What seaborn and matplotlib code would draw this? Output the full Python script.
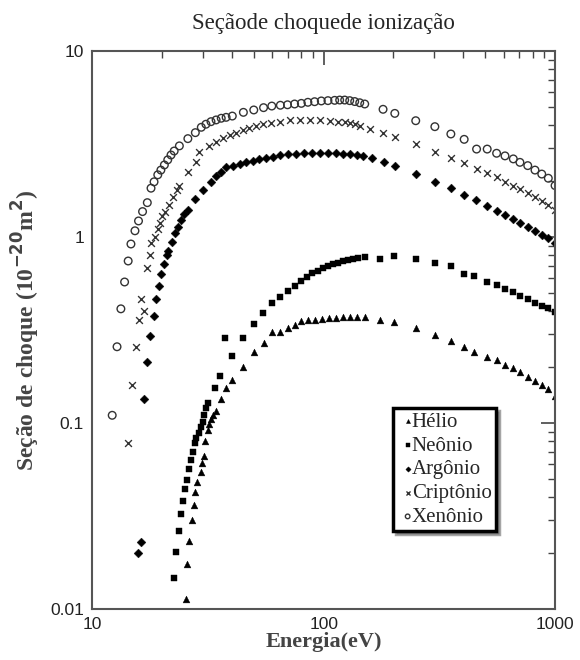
import seaborn as sns
import pandas as pd
import matplotlib.pyplot as plt
from matplotlib.ticker import LogLocator, NullFormatter, FixedFormatter, FixedLocator

###################
# Data (energy in eV, cross-section in 1e-20 m^2)
he_e = [25.4, 25.7, 26.3, 26.9, 27.4, 27.8, 28.3, 29.4, 29.7, 30.3, 30.8, 31.5, 32.1, 32.7,
        33.4, 34.1, 36.1, 37.9, 40.3, 45.0, 49.9, 55.0, 59.7, 65.0, 69.8, 74.9, 80.1, 85.2,
        91.4, 98.0, 105.1, 112.7, 120.8, 129.6, 139.0, 150.5, 174.8, 201.5, 250, 302.4,
        353.6, 404.8, 445.8, 505.8, 559.4, 607.6, 660, 705, 762, 819, 876, 935, 1000]
he_s = [0.0113, 0.0174, 0.0233, 0.0301, 0.0361, 0.0424, 0.0483, 0.0547, 0.0607, 0.0667,
        0.0803, 0.0917, 0.0988, 0.105, 0.110, 0.116, 0.134, 0.155, 0.170, 0.201, 0.242,
        0.268, 0.310, 0.310, 0.323, 0.335, 0.353, 0.358, 0.360, 0.362, 0.367, 0.369, 0.372,
        0.372, 0.372, 0.372, 0.358, 0.350, 0.323, 0.297, 0.277, 0.257, 0.242, 0.227, 0.218,
        0.205, 0.198, 0.188, 0.177, 0.168, 0.160, 0.152, 0.140]

ne_e = [22.6, 23.1, 23.6, 24.3, 24.7, 25.2, 25.6, 26.3, 26.7, 27.2, 27.8, 28.1, 28.8, 29.4,
        30.0, 30.5, 31.0, 31.6, 33.8, 35.8, 40.0, 37.6, 44.9, 49.8, 54.6, 59.7, 65.0, 69.8,
        74.9, 80.1, 84.7, 89.3, 94.4, 99.3, 104.4, 109.7, 115.3, 120.8, 127.0, 133.5, 140.3,
        150.5, 174.8, 201.5, 250, 302.4, 353.6, 404.8, 445.8, 505.8, 559.4, 607.6, 660, 705,
        762, 819, 876, 935, 1000]
ne_s = [0.0146, 0.0203, 0.0262, 0.0323, 0.0382, 0.0440, 0.0494, 0.0566, 0.0633, 0.0701,
        0.0778, 0.0828, 0.0887, 0.0955, 0.1016, 0.110, 0.120, 0.128, 0.155, 0.180, 0.230,
        0.285, 0.285, 0.340, 0.392, 0.440, 0.478, 0.514, 0.547, 0.580, 0.612, 0.638, 0.659,
        0.679, 0.698, 0.713, 0.728, 0.739, 0.752, 0.762, 0.771, 0.784, 0.762, 0.793, 0.762,
        0.728, 0.701, 0.632, 0.619, 0.575, 0.552, 0.525, 0.504, 0.484, 0.464, 0.443, 0.427,
        0.414, 0.394]

ar_e = [15.8, 16.3, 16.8, 17.3, 17.8, 18.4, 18.8, 19.4, 19.8, 20.4, 21.0, 21.3, 22.1, 22.7,
        23.4, 24.2, 25.0, 25.9, 27.9, 30.2, 32.6, 34.3, 36.1, 37.9, 40.5, 43.3, 46.3, 49.4,
        52.8, 56.5, 60.3, 65.0, 70.3, 75.6, 81.9, 88.7, 96.1, 104, 112.7, 120.8, 129.6, 139.0,
        147.9, 162.5, 181.9, 203, 251.8, 302.4, 354.6, 403.6, 453.6, 509, 559, 607.6, 660,
        705, 762, 819, 876, 935, 1000]
ar_s = [0.0199, 0.0228, 0.134, 0.212, 0.294, 0.376, 0.466, 0.547, 0.630, 0.713, 0.800,
        0.844, 0.944, 1.047, 1.136, 1.234, 1.33, 1.40, 1.60, 1.79, 1.98, 2.13, 2.24, 2.37,
        2.42, 2.47, 2.52, 2.57, 2.62, 2.67, 2.70, 2.75, 2.78, 2.81, 2.83, 2.83, 2.83, 2.83,
        2.83, 2.81, 2.79, 2.76, 2.73, 2.65, 2.52, 2.41, 2.18, 1.98, 1.83, 1.68, 1.58, 1.47,
        1.38, 1.31, 1.25, 1.19, 1.13, 1.08, 1.025, 0.984, 0.925]

kr_e = [14.3, 14.8, 15.4, 15.85, 16.3, 16.8, 17.2, 17.8, 17.95, 18.7, 19.2, 19.6, 20.1, 20.7,
        21.4, 22.3, 23.2, 23.8, 26.0, 28.1, 29.0, 32.1, 34.3, 36.6, 39.2, 41.9, 44.7, 47.8,
        51.1, 54.6, 59.4, 64.5, 71.3, 78.7, 86.9, 96.1, 106.2, 115.3, 123.3, 129.6, 136.2,
        143.2, 158.2, 180.6, 203, 251.8, 302.4, 354.6, 404.8, 458, 505.8, 559, 607.6, 660,
        705, 762, 819, 876, 935, 1000]
kr_s = [0.0783, 0.160, 0.255, 0.359, 0.464, 0.400, 0.679, 0.800, 0.925, 1.004, 1.10, 1.19,
        1.29, 1.37, 1.49, 1.65, 1.79, 1.89, 2.24, 2.54, 2.85, 3.10, 3.25, 3.40, 3.54, 3.64,
        3.76, 3.84, 3.95, 4.04, 4.12, 4.17, 4.26, 4.26, 4.26, 4.26, 4.22, 4.17, 4.13, 4.09,
        4.03, 3.95, 3.79, 3.61, 3.46, 3.15, 2.88, 2.67, 2.49, 2.31, 2.20, 2.10, 1.98, 1.89,
        1.81, 1.72, 1.65, 1.57, 1.49, 1.40]

xe_e = [12.2, 12.8, 13.3, 13.8, 14.3, 14.7, 15.3, 15.85, 16.5, 17.3, 17.95, 18.5, 19.2, 19.8,
        20.5, 21.2, 21.9, 22.6, 23.8, 25.9, 27.9, 29.6, 31.0, 32.6, 34.3, 36.1, 37.9, 40.3,
        45.0, 49.9, 55.0, 59.7, 65.0, 69.8, 74.9, 80.1, 85.5, 91.4, 97.7, 104.4, 111.6, 117.3,
        123.3, 129.6, 136.2, 143.2, 150.5, 180.6, 203, 250, 302.4, 354.6, 404.8, 458, 509, 559,
        607.6, 660, 705, 762, 819, 876, 935, 1000]
xe_s = [0.110, 0.257, 0.411, 0.573, 0.743, 0.917, 1.08, 1.22, 1.37, 1.53, 1.83, 1.98, 2.16,
        2.29, 2.44, 2.60, 2.76, 2.90, 3.09, 3.38, 3.64, 3.89, 4.04, 4.17, 4.26, 4.35, 4.40,
        4.47, 4.68, 4.82, 4.96, 5.06, 5.11, 5.14, 5.19, 5.23, 5.30, 5.34, 5.39, 5.41, 5.43,
        5.45, 5.45, 5.41, 5.35, 5.27, 5.19, 4.86, 4.62, 4.22, 3.92, 3.58, 3.35, 2.97, 2.97,
        2.82, 2.73, 2.63, 2.52, 2.42, 2.29, 2.18, 2.07, 1.89]

gases = ["Hélio", "Neônio", "Argônio", "Criptônio", "Xenônio"]
energies = [he_e, ne_e, ar_e, kr_e, xe_e]
sections = [he_s, ne_s, ar_s, kr_s, xe_s]

###################
# Setup
sns.set_style("white")
plt.rcParams["font.family"] = ["Liberation Sans", "DejaVu Sans"]

fig = plt.figure(figsize=(5.8, 6.6), dpi=100)
ax = fig.add_axes([0.159, 0.0773, 0.798, 0.8454])

markers = ["^", "s", "D", "x", "o"]
sizes = [24, 20, 20, 24, 30]

for gas, e, s, m, sz in zip(gases, energies, sections, markers, sizes):
    df = pd.DataFrame({"Energia": e, "Secao": s})
    if m == "o":
        sns.scatterplot(df, x="Energia", y="Secao", ax=ax, marker=m, s=sz,
                        facecolors="none", edgecolor="#333333", linewidth=1.0, label=gas)
    elif m == "x":
        sns.scatterplot(df, x="Energia", y="Secao", ax=ax, marker=m, s=sz,
                        color="#333333", linewidth=1.0, label=gas)
    else:
        sns.scatterplot(df, x="Energia", y="Secao", ax=ax, marker=m, s=sz,
                        color="black", edgecolor="black", linewidth=0.3, label=gas)

ax.set_xscale("log")
ax.set_yscale("log")
ax.set_xlim(10, 1000)
ax.set_ylim(0.01, 10)

ax.xaxis.set_major_locator(FixedLocator([10, 100, 1000]))
ax.xaxis.set_major_formatter(FixedFormatter(["10", "100", "1000"]))
ax.yaxis.set_major_locator(FixedLocator([0.01, 0.1, 1, 10]))
ax.yaxis.set_major_formatter(FixedFormatter(["0.01", "0.1", "1", "10"]))
ax.xaxis.set_minor_locator(LogLocator(base=10, subs=range(2, 10)))
ax.yaxis.set_minor_locator(LogLocator(base=10, subs=range(2, 10)))
ax.xaxis.set_minor_formatter(NullFormatter())
ax.yaxis.set_minor_formatter(NullFormatter())

ax.tick_params(which="both", direction="in", top=True, right=True, colors="#444444",
               labelcolor="#222222", labelsize=12.5)
ax.tick_params(which="major", length=10, width=1.2, pad=6)
ax.tick_params(which="minor", length=5, width=1.0)
for sp in ax.spines.values():
    sp.set_color("#555555")
    sp.set_linewidth(1.5)

ax.set_xlabel("Energia(eV)", fontsize=16, fontweight="bold", family="Liberation Serif",
              color="#444444", labelpad=0)
ax.set_ylabel("Seção de choque (10$^{\\mathbf{-20}}$m$^{\\mathbf{2}}$)", fontsize=17,
              fontweight="bold", family="Liberation Serif", color="#444444", labelpad=6)
ax.set_title("Seçãode choquede ionização", fontsize=16.5, family="Liberation Serif", pad=16)

leg = ax.legend(loc="upper left", bbox_to_anchor=(0.650, 0.360), frameon=True, fancybox=False,
                shadow=True, markerscale=0.6, handletextpad=-0.3, handlelength=1.0,
                borderpad=0.2, labelspacing=0.2, borderaxespad=0,
                prop={"family": "Liberation Serif", "size": 15})
leg.get_frame().set_edgecolor("black")
leg.get_frame().set_linewidth(2.5)

###################
# Export
fig.savefig("out.png", dpi=100)
